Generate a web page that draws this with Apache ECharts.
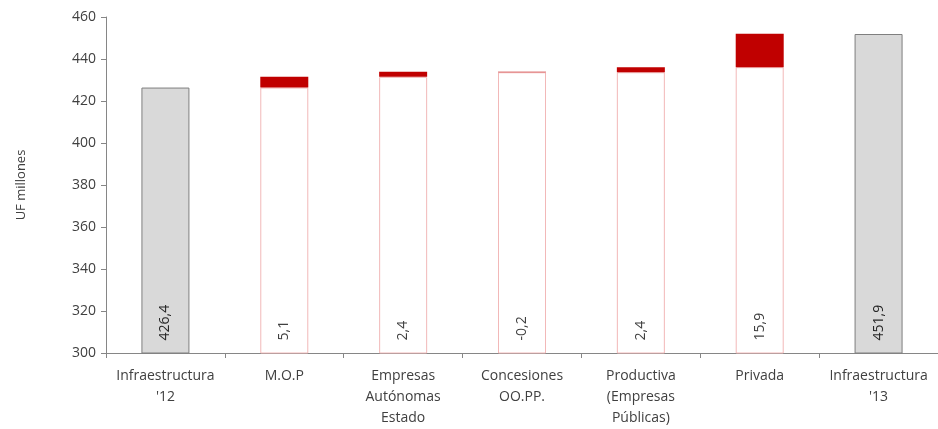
<!DOCTYPE html>
<html>
<head>
<meta charset="utf-8">
<script src="https://cdn.jsdelivr.net/npm/echarts@6/dist/echarts.min.js"></script>
<style>
  html, body { margin: 0; padding: 0; background: #fff; }
  #chart { width: 938px; height: 429px; }
</style>
</head>
<body>
<div id="chart"></div>
<script>
// Categories along the x axis
const categories = [
  "Infraestructura\n'12",
  "M.O.P",
  "Empresas\nAutónomas\nEstado",
  "Concesiones\nOO.PP.",
  "Productiva\n(Empresas\nPúblicas)",
  "Privada",
  "Infraestructura\n'13"
];
// Opening and closing totals (UF millones)
const startTotal = 426.4;
const endTotal = 451.9;
// Changes by sector between the two totals
const changes = [5.1, 2.4, -0.2, 2.4, 15.9];
// Y axis ticks
const yMin = 300, yMax = 460, yStep = 20;

// Build waterfall: base (white / grey totals) + red change segment
const baseData = [];
const deltaData = [];
const labelText = [];
const fmt = v => v.toFixed(1).replace('.', ',');
const totalStyle = { color: '#d9d9d9', borderColor: '#7f7f7f', borderWidth: 1 };

baseData.push({ value: startTotal, itemStyle: totalStyle, label: { color: '#262626' } });
deltaData.push('-');
labelText.push(fmt(startTotal));

let running = startTotal;
changes.forEach(d => {
  const next = running + d;
  baseData.push({ value: Math.min(running, next) });
  deltaData.push(Math.abs(d));
  labelText.push(fmt(d));
  running = next;
});

baseData.push({ value: endTotal, itemStyle: totalStyle, label: { color: '#262626' } });
deltaData.push('-');
labelText.push(fmt(endTotal));

const font = "'Open Sans', 'Liberation Sans', sans-serif";
const chart = echarts.init(document.getElementById('chart'), null, { renderer: 'canvas' });
chart.setOption({
  animation: false,
  backgroundColor: '#ffffff',
  grid: { left: 106, right: -6, top: 17, bottom: 74, containLabel: false },
  xAxis: {
    type: 'category',
    data: categories,
    axisLine: { lineStyle: { color: '#868686', width: 1 } },
    axisTick: { show: true, length: 5, lineStyle: { color: '#868686' } },
    axisLabel: {
      color: '#404040', fontFamily: font, fontSize: 14, lineHeight: 21,
      margin: 13, interval: 0
    }
  },
  yAxis: {
    type: 'value',
    min: yMin, max: yMax, interval: yStep,
    name: 'UF millones',
    nameLocation: 'middle',
    nameRotate: 90,
    nameGap: 78,
    nameTextStyle: { color: '#404040', fontFamily: font, fontSize: 13 },
    axisLine: { show: true, lineStyle: { color: '#868686', width: 1 } },
    axisTick: { show: true, inside: false, length: 5, lineStyle: { color: '#868686' } },
    splitLine: { show: false },
    axisLabel: { color: '#404040', fontFamily: font, fontSize: 14, margin: 10 }
  },
  series: [
    {
      type: 'bar',
      stack: 'w',
      barWidth: 48,
      data: baseData,
      itemStyle: { color: '#ffffff', borderColor: '#f2b8b8', borderWidth: 1 },
      label: {
        show: true,
        position: 'insideBottom',
        rotate: 90,
        align: 'left',
        verticalAlign: 'middle',
        distance: 13,
        fontFamily: font,
        fontSize: 14,
        color: '#404040',
        formatter: p => labelText[p.dataIndex]
      }
    },
    {
      type: 'bar',
      stack: 'w',
      barWidth: 48,
      data: deltaData,
      itemStyle: { color: '#c00000' }
    }
  ]
});
</script>
</body>
</html>
